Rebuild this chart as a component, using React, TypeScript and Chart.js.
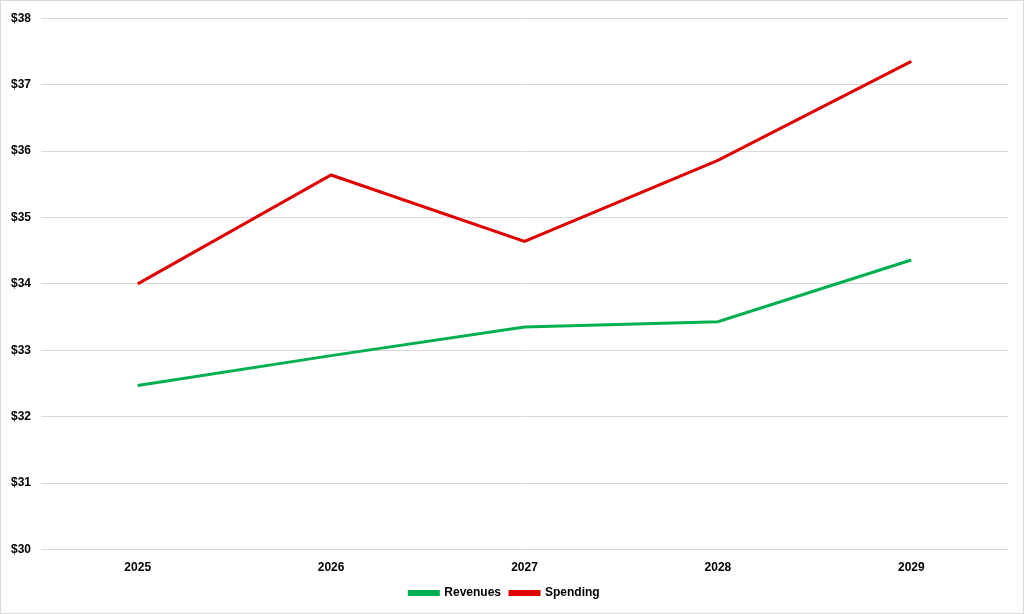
import React, { useEffect, useRef } from "react";
import { Chart, registerables } from "chart.js";

Chart.register(...registerables);

const years = ["2025", "2026", "2027", "2028", "2029"];
const revenues = [32.47, 32.92, 33.35, 33.43, 34.36];
const spending = [34.0, 35.64, 34.64, 35.86, 37.35];
const yMin = 30;
const yMax = 38;

const FONT = '"Liberation Sans", Arial, sans-serif';

export default function App() {
  const ref = useRef<HTMLCanvasElement | null>(null);
  useEffect(() => {
    document.body.style.margin = "0";
    const chart = new Chart(ref.current!, {
      type: "line",
      data: {
        labels: years,
        datasets: [
          {
            label: "Revenues",
            data: revenues,
            borderColor: "#00b050",
            backgroundColor: "#00b050",
            borderWidth: 3,
            pointRadius: 0,
            tension: 0,
          },
          {
            label: "Spending",
            data: spending,
            borderColor: "#e00000",
            backgroundColor: "#e00000",
            borderWidth: 3,
            pointRadius: 0,
            tension: 0,
          },
        ],
      },
      options: {
        animation: false,
        responsive: false,
        maintainAspectRatio: false,
        layout: { padding: { left: 0, right: 15, top: 5, bottom: 4 } },
        plugins: {
          tooltip: { enabled: false },
          legend: {
            position: "bottom",
            labels: {
              boxWidth: 29,
              boxHeight: 3,
              padding: 9,
              color: "#000",
              font: { family: FONT, size: 12, weight: "bold" },
            },
          },
        },
        scales: {
          x: {
            offset: true,
            grid: { display: false },
            border: { display: false },
            ticks: {
              color: "#000",
              padding: 3,
              maxRotation: 0,
              font: { family: FONT, size: 12, weight: "bold" },
            },
          },
          y: {
            min: yMin,
            max: yMax,
            grid: { color: "#d9d9d9", lineWidth: 1, drawTicks: false },
            border: { display: false },
            ticks: {
              stepSize: 1,
              color: "#000",
              padding: 10,
              callback: (v: any) => "$" + v,
              font: { family: FONT, size: 12, weight: "bold" },
            },
          },
        },
      },
    });
    return () => chart.destroy();
  }, []);
  return (
    <div
      style={{
        position: "fixed",
        left: 0,
        top: 0,
        width: 1024,
        height: 614,
        border: "1px solid #d9d9d9",
        boxSizing: "border-box",
        background: "#fff",
      }}
    >
      <canvas ref={ref} width={1022} height={612} style={{ display: "block" }} />
    </div>
  );
}
